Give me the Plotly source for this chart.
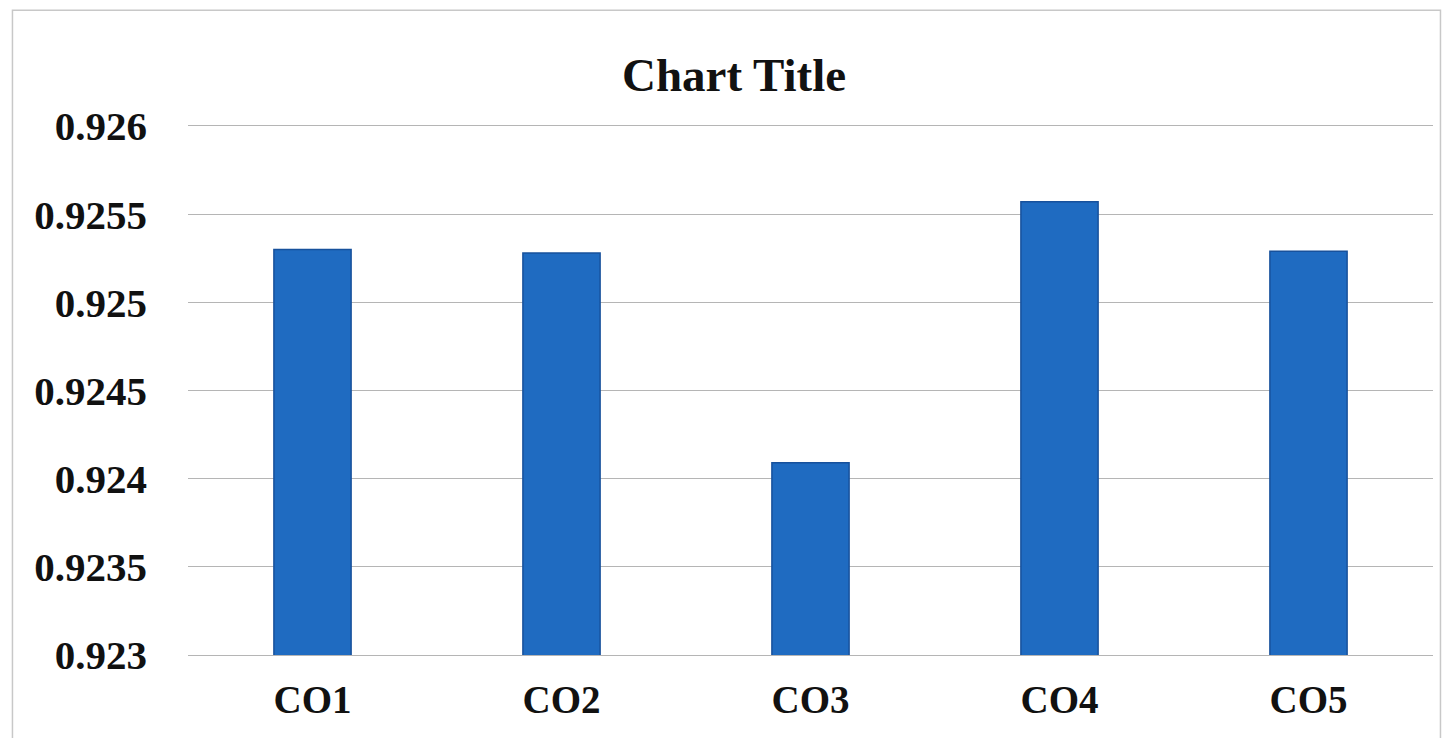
import plotly.graph_objects as go

# Data
categories = ["CO1", "CO2", "CO3", "CO4", "CO5"]
values = [0.92530, 0.92528, 0.92409, 0.92557, 0.92529]

y_tick_vals = [0.923, 0.9235, 0.924, 0.9245, 0.925, 0.9255, 0.926]
y_tick_text = ["0.923", "0.9235", "0.924", "0.9245", "0.925", "0.9255", "0.926"]

FONT = "Liberation Serif"
GRID = "#b5b5b5"

fig = go.Figure()

fig.add_trace(go.Bar(
    x=categories,
    y=values,
    marker=dict(color="#1f6bc1", line=dict(color="#17519c", width=1.5)),
    width=0.31,
))

fig.update_layout(
    title=dict(
        text="<b>Chart Title</b>",
        x=0.5, xanchor="center",
        y=0.91, yanchor="middle",
        font=dict(family=FONT, size=47, color="#111111"),
    ),
    width=1452, height=738,
    margin=dict(l=180, r=27, t=118, b=91),
    paper_bgcolor="white",
    plot_bgcolor="white",
    showlegend=False,
    font=dict(family=FONT, color="#111111"),
    shapes=[dict(
        type="rect", xref="paper", yref="paper",
        x0=-0.141, x1=1.006, y0=-0.2, y1=1.219,
        line=dict(color="#c8c8c8", width=1.5),
    )],
)

# the x axis line (mirrored) stands in for the 0.923 and 0.926 gridlines
fig.update_xaxes(
    showgrid=False,
    showline=True,
    linecolor=GRID,
    linewidth=1.2,
    mirror=True,
    tickfont=dict(family=FONT, size=39, color="#111111"),
    tickprefix="<b>", ticksuffix="</b>",
    ticklabelstandoff=10,
)

fig.update_yaxes(
    range=[0.923, 0.926],
    tickvals=y_tick_vals,
    ticktext=["<b>" + t + "</b>" for t in y_tick_text],
    showgrid=True,
    gridcolor=GRID,
    gridwidth=1.2,
    zeroline=False,
    showline=False,
    tickfont=dict(family=FONT, size=41, color="#111111"),
    ticklabelstandoff=40,
)

fig.write_html("out.html")
